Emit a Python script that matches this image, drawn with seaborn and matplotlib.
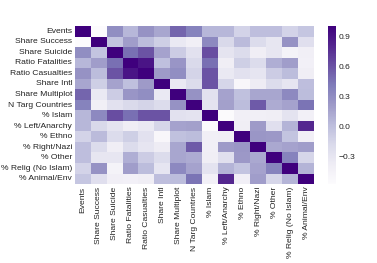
import numpy as np
import pandas as pd
import matplotlib
matplotlib.use('Agg')
import matplotlib.pyplot as plt
import seaborn as sns

labels = ['Events', 'Share Success', 'Share Suicide', 'Ratio Fatalities',
          'Ratio Casualties', 'Share Intl', 'Share Multiplot', 'N Targ Countries',
          '% Islam', '% Left/Anarchy', '% Ethno', '% Right/Nazi', '% Other',
          '% Relig (No Islam)', '% Animal/Env']

# correlation matrix
corr_rows = [
    [1.00, -0.57, 0.30, 0.05, 0.27, 0.15, 0.52, 0.37, 0.05, 0.05, -0.13, 0.01, 0.01, -0.13, -0.04],
    [-0.57, 1.00, -0.03, 0.20, 0.02, -0.10, -0.33, -0.40, 0.33, -0.17, 0.03, -0.20, -0.30, 0.27, -0.23],
    [0.30, -0.03, 1.00, 0.47, 0.60, 0.17, -0.08, -0.25, 0.62, -0.28, -0.20, -0.38, -0.30, -0.45, -0.40],
    [0.05, 0.20, 0.47, 1.00, 0.90, 0.00, 0.25, -0.18, 0.47, -0.38, -0.10, -0.19, 0.10, 0.20, -0.42],
    [0.27, 0.02, 0.60, 0.90, 1.00, 0.22, 0.30, -0.14, 0.60, -0.33, -0.25, -0.29, -0.08, 0.02, -0.38],
    [0.15, -0.10, 0.17, 0.00, 0.22, 1.00, -0.33, -0.19, 0.60, -0.15, -0.50, -0.36, -0.20, -0.29, 0.01],
    [0.52, -0.33, -0.08, 0.25, 0.30, -0.33, 1.00, 0.27, -0.25, 0.17, -0.01, 0.15, 0.15, 0.33, 0.02],
    [0.37, -0.40, -0.25, -0.18, -0.14, -0.19, 0.27, 1.00, -0.27, 0.18, 0.02, 0.57, 0.12, 0.17, 0.45],
    [0.05, 0.33, 0.62, 0.47, 0.60, 0.60, -0.25, -0.27, 1.00, -0.55, -0.40, -0.40, -0.38, -0.27, -0.42],
    [0.05, -0.17, -0.28, -0.38, -0.33, -0.15, 0.17, 0.18, -0.55, 1.00, -0.38, 0.22, -0.23, 0.07, 0.80],
    [-0.13, 0.03, -0.20, -0.10, -0.25, -0.50, -0.01, 0.02, -0.40, -0.38, 1.00, 0.24, 0.23, -0.03, -0.40],
    [0.01, -0.20, -0.38, -0.19, -0.29, -0.36, 0.15, 0.57, -0.40, 0.22, 0.24, 1.00, 0.14, 0.17, 0.20],
    [0.01, -0.30, -0.30, 0.10, -0.08, -0.20, 0.15, 0.12, -0.38, -0.23, 0.23, 0.14, 1.00, 0.37, -0.15],
    [-0.13, 0.27, -0.45, 0.20, 0.02, -0.29, 0.33, 0.17, -0.27, 0.07, -0.03, 0.17, 0.37, 1.00, 0.07],
    [-0.04, -0.23, -0.40, -0.42, -0.38, 0.01, 0.02, 0.45, -0.42, 0.80, -0.40, 0.20, -0.15, 0.07, 1.00],
]

cbar_ticks = [-0.3, 0.0, 0.3, 0.6, 0.9]

corr = pd.DataFrame(corr_rows, index=labels, columns=labels)

sns.set_style('white')
plt.rcParams['font.family'] = ['Liberation Sans', 'DejaVu Sans']

fig = plt.figure(figsize=(3.77, 2.63), dpi=100)
ax = fig.add_axes([0.198, 0.300, 0.635, 0.601])
cax = fig.add_axes([0.870, 0.300, 0.021, 0.601])

sns.heatmap(corr, cmap='Purples', ax=ax, cbar_ax=cax,
            xticklabels=labels, yticklabels=labels,
            cbar_kws={'ticks': cbar_ticks})

ax.tick_params(axis='both', length=0, labelsize=6.1, pad=1.8, colors='#222222')
ax.tick_params(axis='x', labelrotation=90)
ax.tick_params(axis='y', labelrotation=0)
cax.tick_params(labelsize=6.1, length=0, pad=2, colors='#222222')

fig.savefig('out.png', dpi=100)
